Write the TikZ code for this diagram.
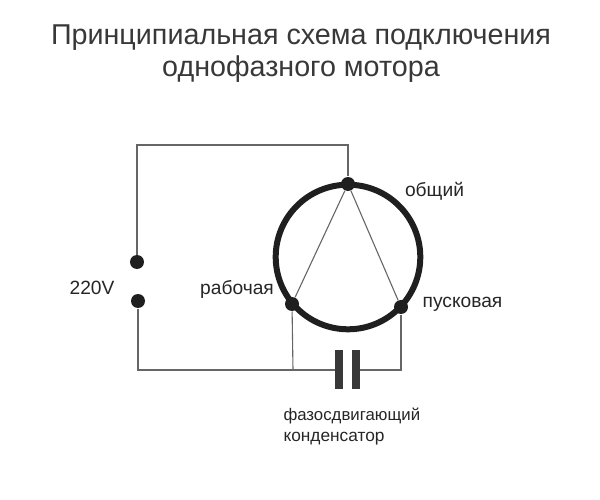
\documentclass[tikz,border=0pt]{standalone}
\usepackage{fontspec}
\setmainfont{Liberation Sans}
\usepackage{tikz}
\usetikzlibrary{arrows,shapes}

\tikzset{
  wire/.style={draw=black!60,line width=1.1pt},
  term/.style={draw=none,fill=black!88,circle,inner sep=0pt,minimum size=14pt},
  tag/.style={inner sep=0pt,text=black!85,font=\fontsize{19.2pt}{23pt}\selectfont},
  title/.style={inner sep=0pt,align=center,text=black!78,font=\fontsize{28.7pt}{32pt}\selectfont}
}

\begin{document}
\begin{tikzpicture}[x=1pt,y=-1pt,line width=1pt]
\useasboundingbox (0,0) rectangle (600,500);

\node (T) at (301,54)[title] {Принципиальная схема подключения\\однофазного мотора};

\coordinate (M) at (348,257);
\draw[line width=6pt,black!88] (M) circle (72.3pt);

\node (C) at (348,184)[term] {};
\node (R) at (292,304)[term] {};
\node (S) at (401,307)[term] {};
\node (L1) at (137,262)[term] {};
\node (L2) at (138,301)[term] {};

\coordinate (TL) at (137,145);
\coordinate (TR) at (348,145);
\coordinate (BL) at (138,370);
\coordinate (BR) at (293,370);
\coordinate (BS) at (401,370);
\coordinate (P1) at (339,370);
\coordinate (P2) at (356,370);

\draw[wire] (L1) -- (TL) -- (TR) -- (C);
\draw[wire] (L2) -- (BL) -- (P1);
\draw[wire] (P2) -- (BS) -- (S);
\draw[wire] (BR) -- (R);
\draw[wire] (C) -- (R);
\draw[wire] (C) -- (S);

\fill[black!78] (335,350) rectangle (343,389);
\fill[black!78] (352,350) rectangle (360,389);

\node (V) at (92,288)[tag] {220V};
\node (A) at (434.5,191)[tag] {общий};
\node (B) at (237,289)[tag] {рабочая};
\node (D) at (462.5,304)[tag] {пусковая};
\node (E) at (283,416)[tag,anchor=west,font=\fontsize{16.8pt}{20pt}\selectfont] {фазосдвигающий};
\node (F) at (283,439)[tag,anchor=west,font=\fontsize{17.3pt}{20pt}\selectfont] {конденсатор};
\end{tikzpicture}
\end{document}
